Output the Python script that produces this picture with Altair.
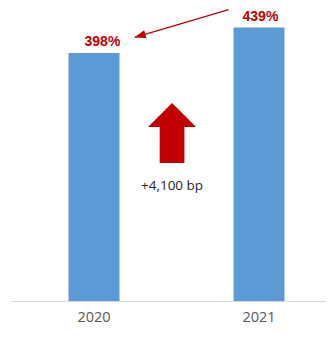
import altair as alt
import pandas as pd

# ---- data ----
years = ["2020", "2021"]
ratios = [398, 439]
ratio_labels = ["398%", "439%"]

# annotation positions: x in category units (2020 = 0, 2021 = 1), y in % units
pointer_x = [0.816, 0.247]      # thin arrow: start, tip
pointer_y = [467.5, 423.2]
change_x = [0.473]
change_arrow_y = [317.8]        # tip of the big arrow
change_text_y = [184.6]
change_text = ["+4,100 bp"]

Y_MAX = 470.2
X_DOMAIN = [-0.509, 1.406]
RED = "#C00000"

bars_df = pd.DataFrame({"year": years, "ratio": ratios, "label": ratio_labels})
pointer_df = pd.DataFrame({"x": [pointer_x[0]], "y": [pointer_y[0]],
                           "x2": [pointer_x[1]], "y2": [pointer_y[1]]})
tip_df = pd.DataFrame({"x": [pointer_x[1]], "y": [pointer_y[1]]})
change_df = pd.DataFrame({"x": change_x, "ya": change_arrow_y,
                          "yt": change_text_y, "text": change_text})

yscale = alt.Scale(domain=[0, Y_MAX], nice=False, zero=True)
band = alt.Scale(paddingInner=0.691, paddingOuter=0.3031, align=0.585)
xaxis = alt.Axis(labelAngle=0, ticks=False, tickSize=0, domainColor="#d9d9d9",
                 domainWidth=1, labelColor="#595959", labelFont="Open Sans",
                 labelFontSize=14.5, labelPadding=20, labelBaseline="alphabetic",
                 grid=False)
xq = alt.X("x:Q", scale=alt.Scale(domain=X_DOMAIN, nice=False, zero=False), axis=None)

bars = alt.Chart(bars_df).mark_bar(color="#5B9BD5").encode(
    x=alt.X("year:N", sort=years, title=None, scale=band, axis=xaxis),
    y=alt.Y("ratio:Q", scale=yscale, axis=None),
)
labels = alt.Chart(bars_df).mark_text(
    font="Liberation Sans", fontSize=14, fontWeight="bold", color=RED,
    baseline="alphabetic", dy=-6.5,
).encode(
    x=alt.X("year:N", sort=years, title=None, scale=band, axis=None),
    y=alt.Y("ratio:Q", scale=yscale, axis=None),
    text="label:N",
)
pointer = alt.Chart(pointer_df).mark_rule(color=RED, strokeWidth=1.3).encode(
    x=xq, x2="x2:Q",
    y=alt.Y("y:Q", scale=yscale, axis=None), y2="y2:Q",
)
tip = alt.Chart(tip_df).mark_point(
    shape="M0,0L0.75,2L-0.75,2Z", size=121, filled=True, color=RED,
    opacity=1, angle=254,
).encode(x=xq, y=alt.Y("y:Q", scale=yscale, axis=None))
big_arrow = alt.Chart(change_df).mark_point(
    shape="M0,0L2,2L1.03,2L1.03,5L-1.03,5L-1.03,2L-2,2Z", size=576,
    filled=True, color=RED, opacity=1, strokeWidth=0,
).encode(x=xq, y=alt.Y("ya:Q", scale=yscale, axis=None))
change_lbl = alt.Chart(change_df).mark_text(
    font="Open Sans", fontSize=13.5, color="#262626", baseline="middle",
).encode(x=xq, y=alt.Y("yt:Q", scale=yscale, axis=None), text="text:N")

chart = alt.layer(bars, labels, pointer, tip, big_arrow, change_lbl).resolve_scale(
    x="independent"
).properties(
    width=316, height=293,
    padding={"left": 2, "top": 0, "right": 0, "bottom": 25},
    autosize=alt.AutoSizeParams(type="none"),
).configure_view(stroke=None)

chart.save("out.html", embed_options={"renderer": "svg", "actions": False})
